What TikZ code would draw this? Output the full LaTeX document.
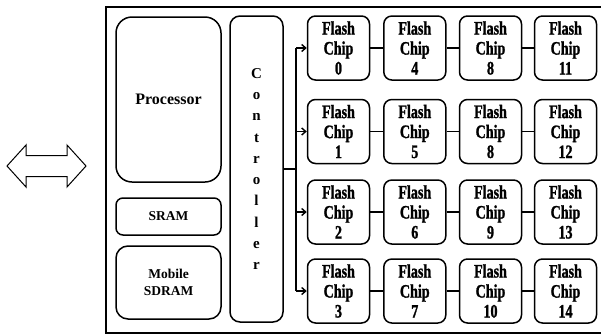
\documentclass[tikz,border=0pt]{standalone}
\usepackage{fontspec}
\setmainfont{Liberation Serif}
\newfontfamily\chipfont{Liberation Serif}[FakeStretch=0.74,FakeBold=1.2]
\usetikzlibrary{arrows.meta}
\begin{document}
\begin{tikzpicture}[x=1pt,y=-1pt,
  box/.style={draw,line width=1.5pt,rounded corners=#1,inner sep=0pt},
  box/.default=8pt,
  chipbox/.style={box=8pt,minimum width=62pt,minimum height=64pt,align=center,
    font=\chipfont\bfseries\fontsize{19}{20}\selectfont},
  link/.style={line width=1.6pt},
  feed/.style={line width=1.6pt,-{Straight Barb[length=4pt,width=7pt,line width=1.4pt]}}]
\useasboundingbox (0,0) rectangle (601,335);

% host interface arrow
\draw[line width=1pt,line join=miter] (7,166) -- (26,145) -- (26,155.5) -- (67,155.5) -- (67,145)
  -- (86,166) -- (67,187) -- (67,176.5) -- (26,176.5) -- (26,187) -- cycle;

% device enclosure (right side runs past the page edge)
\draw[line width=2pt] (606,7) -- (106,7) -- (106,333) -- (606,333);

% processor, memories and controller
\node[box=16pt,minimum width=105pt,minimum height=165pt,
  font=\bfseries\fontsize{16}{18}\selectfont] (cpu) at (168.5,99.5) {Processor};
\node[box=7pt,minimum width=105pt,minimum height=37pt,
  font=\bfseries\fontsize{13.5}{16}\selectfont] (sram) at (168.5,216.5) {SRAM};
\node[box=12pt,minimum width=105pt,minimum height=73pt,align=center,
  font=\bfseries\fontsize{13.5}{17}\selectfont] (sdram) at (168.5,282.5) {Mobile\\SDRAM};
\node[box=10pt,minimum width=53pt,minimum height=306pt] (ctrl) at (256.5,169) {};
\node[align=center,font=\bfseries\fontsize{15}{21.3}\selectfont] (ctrltxt) at (ctrl.center)
  {C\\o\\n\\t\\r\\o\\l\\l\\e\\r};

% flash chip array
\foreach \r/\yy/\na/\nb/\nc/\nd in {0/48/0/4/8/11, 1/131.5/1/5/8/12, 2/212/2/6/9/13, 3/291/3/7/10/14}{
  \node[chipbox] (c\r0) at (338.5,\yy) {Flash\\Chip\\\na};
  \node[chipbox] (c\r1) at (414.8,\yy) {Flash\\Chip\\\nb};
  \node[chipbox] (c\r2) at (490.5,\yy) {Flash\\Chip\\\nc};
  \node[chipbox] (c\r3) at (565.5,\yy) {Flash\\Chip\\\nd};
  \draw[link] (c\r0) -- (c\r1);
  \draw[link] (c\r1) -- (c\r2);
  \draw[link] (c\r2) -- (c\r3);
}

% channel bus from the controller
\coordinate (tap) at (296,169);
\coordinate (bustop) at (296,48);
\coordinate (busbot) at (296,291);
\draw[link] (ctrl.east |- tap) -- (tap);
\draw[link] (bustop) -- (busbot);
\foreach \r in {0,1,2,3}{
  \draw[feed] (bustop |- c\r0.west) -- (c\r0.west);
}
\end{tikzpicture}
\end{document}
